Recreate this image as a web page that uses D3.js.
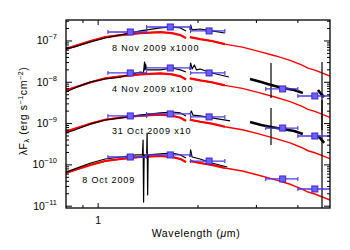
<!DOCTYPE html>
<html lang="en">
<head>
<meta charset="UTF-8">
<title>SED evolution, Oct-Nov 2009</title>
<script src="https://d3js.org/d3.v7.min.js"></script>
<style>
  body { margin: 0; background: #fff; }
  svg { font-family: "Liberation Sans", Arial, sans-serif; }
</style>
</head>
<body>
<div id="chart"></div>
<script>
// epochs (bottom to top) and display offsets
const epochs = ["8 Oct 2009", "31 Oct 2009", "4 Nov 2009", "8 Nov 2009"];
const offsets = [1, 10, 100, 1000];
const offsetText = ["", " x10", " x100", " x1000"];

// red model / dereddened spectrum (same shape for every epoch), null = gap
const modelLam  = [0.80, 0.85, 0.95, 1.05, 1.17, 1.34, 1.54, 1.67, 1.77, 1.84, null,
                   1.89, 2.03, 2.20, 2.41, 2.72, 3.03, 3.41, 3.79, 4.12, 4.29, 4.50, 5.00];
const modelFlux = [6.4e-11, 7.5e-11, 1.0e-10, 1.24e-10, 1.39e-10, 1.55e-10, 1.64e-10, 1.55e-10, 1.39e-10, 1.17e-10, null,
                   1.24e-10, 1.11e-10, 1.0e-10, 8.4e-11, 7.1e-11, 5.7e-11, 4.4e-11, 3.4e-11, 2.6e-11, 2.2e-11, 1.97e-11, 1.41e-11];

// black observed spectra (true flux, before offset)
const oct8Lam  = [0.80, 0.85, 0.95, 1.05, 1.17, 1.30, 1.36, 1.366, 1.371, 1.376, 1.40, 1.405, 1.41, 1.415, 1.54, 1.67, 1.77, 1.84, null,
                  1.89, 1.90, 1.92, 2.03, 2.20, 2.45];
const oct8Flux = [6.7e-11, 8.0e-11, 1.11e-10, 1.39e-10, 1.55e-10, 1.74e-10, 1.74e-10, 4.0e-10, 1.26e-11, 1.74e-10, 1.74e-10, 5.9e-10, 1.87e-11, 1.74e-10, 1.84e-10, 1.94e-10, 1.74e-10, 1.47e-10, null,
                  1.55e-10, 2.3e-10, 1.55e-10, 1.39e-10, 1.11e-10, 8.9e-11];

const oct31Lam  = [0.80, 0.85, 0.95, 1.05, 1.17, 1.34, 1.54, 1.67, 1.77, 1.84, null,
                   1.89, 1.91, 1.93, 2.03, 2.20, 2.50, null,
                   2.87, 3.10, 3.32, 3.60, 3.90, 4.14, null,
                   4.60, 4.70, 4.80];
const oct31Flux = [5.9e-11, 7.0e-11, 9.8e-11, 1.22e-10, 1.37e-10, 1.61e-10, 1.81e-10, 1.91e-10, 1.81e-10, 1.53e-10, null,
                   1.71e-10, 2.02e-10, 1.61e-10, 1.53e-10, 1.37e-10, 1.16e-10, null,
                   1.09e-10, 9.2e-11, 8.3e-11, 7.4e-11, 6.6e-11, 5.6e-11, null,
                   5.0e-11, 4.2e-11, 3.4e-11];

const nov4Lam  = [0.80, 0.85, 0.95, 1.05, 1.17, 1.34, 1.37, 1.38, 1.385, 1.39, 1.40, 1.54, 1.67, 1.77, 1.84, null,
                  1.89, 1.90, 1.92, 1.95, 1.98, 2.03, 2.20, 2.48, null,
                  2.87, 3.10, 3.32, 3.60, 3.90, 4.14, null,
                  4.60, 4.70, 4.80];
const nov4Flux = [5.8e-11, 7.3e-11, 1.02e-10, 1.20e-10, 1.34e-10, 1.77e-10, 1.71e-10, 3.1e-10, 1.99e-10, 2.77e-10, 1.99e-10, 1.99e-10, 2.22e-10, 1.99e-10, 1.77e-10, null,
                  1.99e-10, 2.93e-10, 2.10e-10, 2.62e-10, 1.99e-10, 2.10e-10, 1.68e-10, 1.34e-10, null,
                  1.20e-10, 1.02e-10, 8.6e-11, 7.3e-11, 6.5e-11, 5.5e-11, null,
                  6.5e-11, 5.2e-11, 4.4e-11];

const nov8Lam  = [0.80, 0.85, 0.95, 1.05, 1.17, 1.34, 1.54, 1.67, 1.77, 1.84, null,
                  1.89, 1.90, 1.92, 2.03, 2.20, 2.41];
const nov8Flux = [6.4e-11, 7.2e-11, 9.5e-11, 1.18e-10, 1.40e-10, 1.75e-10, 2.07e-10, 2.18e-10, 2.07e-10, 1.75e-10, null,
                  1.85e-10, 2.44e-10, 1.85e-10, 1.95e-10, 1.75e-10, 1.56e-10];

// noisy single channels: [lambda, low, high]
const oct31Spikes = [[3.32, 3.03e-11, 2.39e-10], [4.73, 5e-13, 3.72e-10]];
const nov4Spikes  = [[3.32, 4.17e-11, 2.93e-10], [4.73, 7.0e-12, 3.10e-10]];

// photometry J H K L M (blue)
const bandLam = [1.25, 1.65, 2.16, 3.6, 4.5];
const bandLo  = [1.07, 1.40, 1.90, 3.2, 4.0];
const bandHi  = [1.40, 1.90, 2.41, 4.0, 5.3];
const phot8Oct  = [1.55e-10, 1.74e-10, 1.24e-10, 4.56e-11, 2.61e-11];
const phot31Oct = [1.53e-10, 1.71e-10, 1.45e-10, 7.8e-11, 5.0e-11];
const phot4Nov  = [1.68e-10, 2.22e-10, 1.68e-10, 6.9e-11, 4.66e-11];
const phot8Nov  = [1.65e-10, 2.18e-10, 1.75e-10, null, null];

const yDecades = [-11, -10, -9, -8, -7];
const xTicks = [0.9, 1, 2, 3, 4];
const xTickLabels = ["", "1", "", "", ""];

const spectra = [[oct8Lam, oct8Flux], [oct31Lam, oct31Flux], [nov4Lam, nov4Flux], [nov8Lam, nov8Flux]];
const spikes = [[], oct31Spikes, nov4Spikes, []];
const phot = [phot8Oct, phot31Oct, phot4Nov, phot8Nov];

const W = 350, H = 250;
const plot = { left: 66, right: 330, top: 20, bottom: 208 };

const x = d3.scaleLog().domain([0.8, 5.0]).range([plot.left, plot.right]);
const y = d3.scaleLog().domain([9.04e-12, 3.22e-7]).range([plot.bottom, plot.top]);

const svg = d3.select("#chart").append("svg")
    .attr("width", W).attr("height", H);

svg.append("rect").attr("width", W).attr("height", H).attr("fill", "#fff");

svg.append("clipPath").attr("id", "clip")
  .append("rect")
    .attr("x", plot.left).attr("y", plot.top)
    .attr("width", plot.right - plot.left).attr("height", plot.bottom - plot.top);

const g = svg.append("g").attr("clip-path", "url(#clip)");

// split arrays into segments at nulls
function segments(lams, flux, k) {
  const out = [];
  let cur = [];
  lams.forEach((l, i) => {
    if (l == null || flux[i] == null) { if (cur.length) out.push(cur); cur = []; }
    else cur.push([l, flux[i] * k]);
  });
  if (cur.length) out.push(cur);
  return out;
}

const line = d3.line().x(d => x(d[0])).y(d => y(d[1]));

// red model, thicker where it is noisy data
offsets.forEach(k => {
  const segs = segments(modelLam, modelFlux, k);
  segs.forEach(seg => {
    g.append("path")
      .attr("d", line(seg))
      .attr("fill", "none")
      .attr("stroke", "#ff0000")
      .attr("stroke-width", 1.4);
    const noisy = seg.filter(d => d[0] <= 2.45);
    if (noisy.length > 1) {
      g.append("path")
        .attr("d", line(noisy))
        .attr("fill", "none")
        .attr("stroke", "#ff0000")
        .attr("stroke-width", 2.2);
    }
  });
});

// black spectra on top
spectra.forEach((s, e) => {
  segments(s[0], s[1], offsets[e]).forEach(seg => {
    g.append("path")
      .attr("d", line(seg))
      .attr("fill", "none")
      .attr("stroke", "#000")
      .attr("stroke-width", seg[0][0] > 2.7 ? 2.6 : 1.2)
      .attr("stroke-linejoin", "round");
  });
  spikes[e].forEach(sp => {
    g.append("line")
      .attr("x1", x(sp[0])).attr("x2", x(sp[0]))
      .attr("y1", y(sp[1] * offsets[e])).attr("y2", y(sp[2] * offsets[e]))
      .attr("stroke", "#000").attr("stroke-width", 1.2);
  });
});

// blue photometry with bandwidth bars
const blue = "#4a3ae6";
phot.forEach((vals, e) => {
  vals.forEach((v, i) => {
    if (v == null) return;
    const yy = y(v * offsets[e]);
    const x0 = x(bandLo[i]), x1 = x(bandHi[i]);
    g.append("line").attr("x1", x0).attr("x2", x1).attr("y1", yy).attr("y2", yy)
      .attr("stroke", blue).attr("stroke-width", 1.3);
    [x0, x1].forEach(xc => g.append("line")
      .attr("x1", xc).attr("x2", xc).attr("y1", yy - 2).attr("y2", yy + 2)
      .attr("stroke", blue).attr("stroke-width", 1.1));
    g.append("rect")
      .attr("x", x(bandLam[i]) - 3).attr("y", yy - 3)
      .attr("width", 6).attr("height", 6)
      .attr("fill", "#6f60f4").attr("stroke", "#3a28d6").attr("stroke-width", 1);
  });
});

// epoch labels
const labelLam = [0.895, 1.10, 1.10, 1.10];
const labelFlux = [3.65e-11, 5.6e-11, 5.8e-11, 5.7e-11];
epochs.forEach((t, e) => {
  svg.append("text")
    .attr("x", x(labelLam[e]))
    .attr("y", y(labelFlux[e] * offsets[e]))
    .attr("font-size", 9)
    .attr("letter-spacing", 0.9)
    .attr("fill", "#000")
    .text(t + offsetText[e]);
});

// frame
svg.append("rect")
  .attr("x", plot.left).attr("y", plot.top)
  .attr("width", plot.right - plot.left).attr("height", plot.bottom - plot.top)
  .attr("fill", "none").attr("stroke", "#000").attr("stroke-width", 1.3);

// y ticks (both sides)
yDecades.forEach(p => {
  for (let m = 1; m <= 9; m++) {
    const v = m * Math.pow(10, p);
    if (v < y.domain()[0] || v > y.domain()[1]) continue;
    const len = m === 1 ? 6 : 3;
    const yy = y(v);
    svg.append("line").attr("x1", plot.left).attr("x2", plot.left + len)
      .attr("y1", yy).attr("y2", yy).attr("stroke", "#000").attr("stroke-width", 1);
    svg.append("line").attr("x1", plot.right).attr("x2", plot.right - len)
      .attr("y1", yy).attr("y2", yy).attr("stroke", "#000").attr("stroke-width", 1);
  }
  const t = svg.append("text")
    .attr("x", 57).attr("y", y(Math.pow(10, p)) + 3.5)
    .attr("text-anchor", "end")
    .attr("font-size", 10.5);
  t.append("tspan").text("10");
  t.append("tspan").attr("font-size", 7.5).attr("dy", -5).text("\u2212" + Math.abs(p));
});

// x ticks (bottom and top)
xTicks.forEach((v, i) => {
  const xx = x(v);
  const len = v === 1 ? 5 : 3;
  svg.append("line").attr("x1", xx).attr("x2", xx)
    .attr("y1", plot.bottom).attr("y2", plot.bottom - len).attr("stroke", "#000");
  svg.append("line").attr("x1", xx).attr("x2", xx)
    .attr("y1", plot.top).attr("y2", plot.top + len).attr("stroke", "#000");
  if (xTickLabels[i]) {
    svg.append("text").attr("x", xx).attr("y", 224)
      .attr("text-anchor", "middle").attr("font-size", 10.5)
      .text(xTickLabels[i]);
  }
});

// axis titles
const xt = svg.append("text")
  .attr("x", 196).attr("y", 237)
  .attr("text-anchor", "middle")
  .attr("font-size", 10.5).attr("letter-spacing", 0.6);
xt.append("tspan").text("Wavelength (");
xt.append("tspan").attr("font-style", "italic").text("\u03bc");
xt.append("tspan").text("m)");

const yt = svg.append("text")
  .attr("transform", "translate(27,111) rotate(-90)")
  .attr("text-anchor", "middle")
  .attr("font-size", 10.5).attr("letter-spacing", 0.6);
yt.append("tspan").text("\u03bbF");
yt.append("tspan").attr("font-size", 7).attr("dy", 2).text("\u03bb");
yt.append("tspan").attr("dy", -2).text(" (erg s");
yt.append("tspan").attr("font-size", 7).attr("dy", -4).text("\u22121");
yt.append("tspan").attr("dy", 4).text("cm");
yt.append("tspan").attr("font-size", 7).attr("dy", -4).text("\u22122");
yt.append("tspan").attr("dy", 4).text(")");
</script>
</body>
</html>
